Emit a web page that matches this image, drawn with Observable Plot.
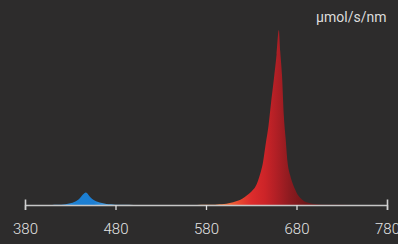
<!DOCTYPE html>
<html><head><meta charset="utf-8">
<script src="https://cdn.jsdelivr.net/npm/d3@7"></script>
<script src="https://cdn.jsdelivr.net/npm/@observablehq/plot@0.6"></script>
<style>html,body{margin:0;padding:0;background:#2d2c2c;overflow:hidden}</style>
</head><body><div id="chart"></div>
<script>
// wavelength (nm) and relative spectral photon flux (µmol/s/nm, peak = 1)
const wavelengths = [380, 400, 410, 415, 420, 425, 430, 435, 440, 443, 445, 447, 449, 451, 454, 460, 465, 470, 475, 480, 490, 500, 520, 570,
  580, 590, 595, 600, 605, 610, 615, 620, 625, 630, 635, 640, 643, 646, 649, 652, 655, 658, 660.5,
  662, 664, 666, 668, 670, 673, 675, 678, 682, 686, 691, 695, 700, 710, 720, 740, 780];
const intensity = [0, 0, 0, 0.001, 0.002, 0.005, 0.010, 0.019, 0.036, 0.055, 0.064, 0.071, 0.066, 0.052, 0.036, 0.019, 0.011, 0.006, 0.004, 0.002, 0.001, 0.0005, 0, 0,
  0.001, 0.002, 0.004, 0.006, 0.010, 0.016, 0.024, 0.036, 0.054, 0.076, 0.108, 0.180, 0.245, 0.350, 0.450, 0.590, 0.720, 0.860, 1.0,
  0.880, 0.740, 0.510, 0.380, 0.250, 0.170, 0.135, 0.095, 0.054, 0.032, 0.016, 0.010, 0.006, 0.002, 0.001, 0, 0];
const xTicks = [380, 480, 580, 680, 780];
const endTicks = [380, 780];
const unitLabel = "µmol/s/nm";

const data = wavelengths.map((w, i) => ({nm: w, v: intensity[i]}));

const gradientStops = [
  [410, "#4a9ce2"], [436, "#1c80d3"], [456, "#1c7ed2"], [482, "#62b2e8"],
  [560, "#f5a458"], [598, "#f27c40"], [616, "#ea4a30"], [630, "#dd2c2c"],
  [645, "#cc2428"], [658, "#b01f25"], [672, "#8e1b20"], [690, "#6e1719"], [730, "#561415"]
];

const plot = Plot.plot({
  width: 398, height: 244,
  marginLeft: 25, marginRight: 11, marginTop: 30, marginBottom: 39,
  style: {background: "#2d2c2c", color: "#e4e4e4", fontFamily: "Roboto, 'Open Sans', sans-serif", overflow: "visible"},
  x: {domain: [380, 780], label: null},
  y: {domain: [0, 1], axis: null},
  marks: [
    Plot.areaY(data, {x: "nm", y: "v", fill: "url(#spectrum)", curve: "monotone-x"}),
    Plot.ruleY([0], {stroke: "#c6c6c6", strokeWidth: 1.6}),
    Plot.axisX({ticks: xTicks, tickSize: 5, tickPadding: 13, fontSize: 15, fontWeight: 300,
      stroke: "#dcdcdc", strokeWidth: 1.3, tickFormat: d => String(d), label: null}),
    Plot.ruleX(endTicks, {x: d => d, y1: 0, y2: 0, insetTop: 5, insetBottom: 5.5, stroke: "#d0d0d0", strokeWidth: 1.6}),
    Plot.text([unitLabel], {frameAnchor: "top-right", dx: -1, dy: -18, fontSize: 14, fill: "#dcdcdc"})
  ]
});

const xs = plot.scale("x");
const svg = d3.select(plot.tagName === "svg" ? plot : plot.querySelector("svg"));
const grad = svg.insert("defs", ":first-child").append("linearGradient")
  .attr("id", "spectrum").attr("gradientUnits", "userSpaceOnUse")
  .attr("x1", xs.apply(380)).attr("x2", xs.apply(780)).attr("y1", 0).attr("y2", 0);
gradientStops.forEach(([nm, c]) => grad.append("stop").attr("offset", (nm - 380) / 400).attr("stop-color", c));

document.getElementById("chart").append(plot);
</script>
</body></html>
